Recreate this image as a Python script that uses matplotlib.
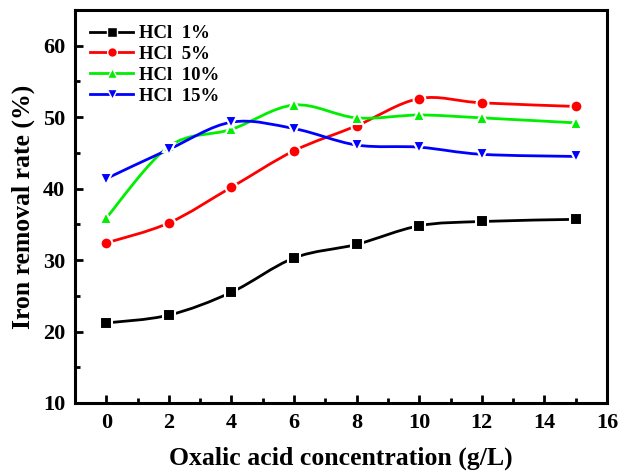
import matplotlib
matplotlib.use('Agg')
import matplotlib.pyplot as plt
from matplotlib.path import Path
from matplotlib.patches import PathPatch
from matplotlib.lines import Line2D

conc = [0, 2, 4, 6, 8, 10, 12, 15]
hcl_1 = [21.2, 22.3, 25.5, 30.3, 32.2, 34.8, 35.4, 35.7]
hcl_5 = [32.4, 35.2, 40.2, 45.3, 48.8, 52.6, 52.0, 51.5]
hcl_10 = [35.9, 45.9, 48.3, 51.7, 49.9, 50.3, 49.9, 49.2]
hcl_15 = [41.4, 45.5, 49.3, 48.4, 46.1, 45.8, 44.8, 44.5]

series = [
    ('HCl  1%', hcl_1, '#000000', 's'),
    ('HCl  5%', hcl_5, '#ff0000', 'o'),
    ('HCl  10%', hcl_10, '#00ee00', '^'),
    ('HCl  15%', hcl_15, '#0000ff', 'v'),
]

plt.rcParams['font.family'] = 'Liberation Serif'
plt.rcParams['font.weight'] = 'bold'


def smooth_path(xs, ys, t=1/6):
    # catmull-rom style bezier through the data points
    verts = [(xs[0], ys[0])]
    codes = [Path.MOVETO]
    n = len(xs)
    for i in range(n - 1):
        x0, y0 = (xs[i - 1], ys[i - 1]) if i > 0 else (xs[i], ys[i])
        x1, y1 = xs[i], ys[i]
        x2, y2 = xs[i + 1], ys[i + 1]
        x3, y3 = (xs[i + 2], ys[i + 2]) if i + 2 < n else (x2, y2)
        c1 = (x1 + (x2 - x0) * t, y1 + (y2 - y0) * t)
        c2 = (x2 - (x3 - x1) * t, y2 - (y3 - y1) * t)
        verts += [c1, c2, (x2, y2)]
        codes += [Path.CURVE4] * 3
    return Path(verts, codes)


fig = plt.figure(figsize=(6.18, 4.75), dpi=100)
ax = fig.add_axes([0.1214, 0.1516, 0.8608, 0.8274])

handles = []
for label, vals, color, mk in series:
    ax.add_patch(PathPatch(smooth_path(conc, vals), facecolor='none',
                           edgecolor=color, linewidth=2, zorder=2))
    ax.plot(conc, vals, linestyle='none', marker=mk, markersize=8.5,
            color=color, markeredgecolor='white', markeredgewidth=1.5, zorder=3)
    handles.append(Line2D([], [], color=color, linewidth=2, marker=mk,
                          markersize=7, markeredgecolor='white',
                          markeredgewidth=1.0, label=label))

ax.set_xlim(-1, 16)
ax.set_ylim(10, 65)
ax.set_xticks(range(0, 17, 2))
ax.set_xticks(range(-1, 16, 2), minor=True)
ax.set_yticks(range(10, 61, 10))
ax.set_yticks(range(15, 66, 10), minor=True)
ax.tick_params(which='major', direction='in', length=6, width=2,
               labelsize=16, pad=7)
ax.tick_params(which='minor', direction='in', length=3.5, width=2)
for lab in ax.get_xticklabels() + ax.get_yticklabels():
    lab.set_fontweight('bold')
for spine in ax.spines.values():
    spine.set_linewidth(2.2)

ax.set_xlabel('Oxalic acid concentration (g/L)', fontsize=18.5,
              fontweight='bold', labelpad=10)
ax.set_ylabel('Iron removal rate (%)', fontsize=18.5, fontweight='bold',
              labelpad=6)

ax.legend(handles=handles, loc='upper left', frameon=False,
          prop={'weight': 'bold', 'size': 13.5}, handlelength=2.3,
          labelspacing=0.2, borderaxespad=0.5, handletextpad=0.3,
          borderpad=0.3)

plt.savefig('out.png', dpi=100)
